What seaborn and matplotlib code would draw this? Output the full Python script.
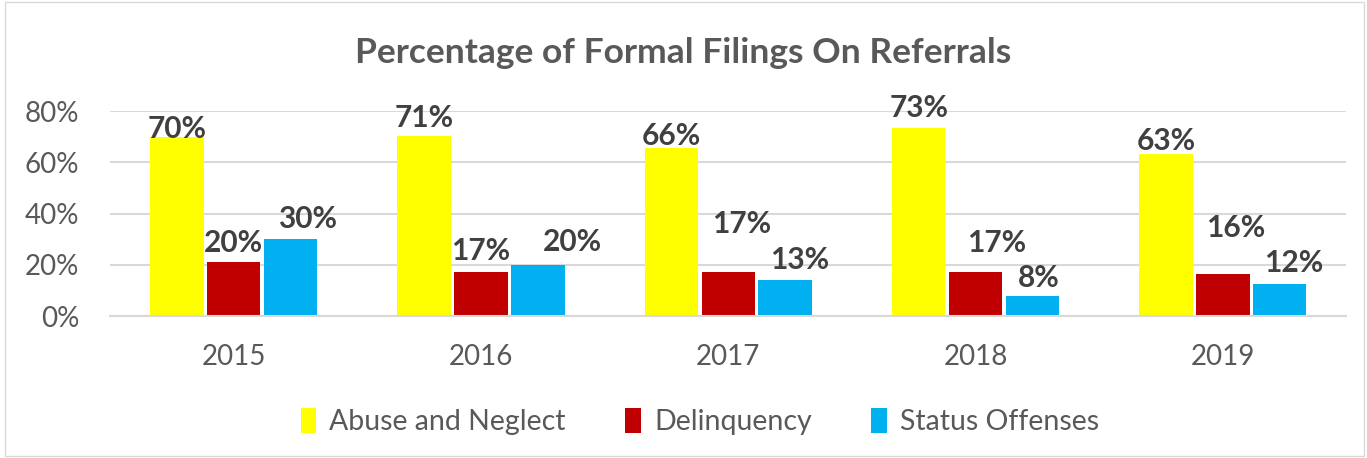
import matplotlib.pyplot as plt
import seaborn as sns
import pandas as pd
from matplotlib.patches import Rectangle
from matplotlib.ticker import PercentFormatter

years = ["2015", "2016", "2017", "2018", "2019"]
series = ["Abuse and Neglect", "Delinquency", "Status Offenses"]
abuse_neglect = [70.0, 70.3, 65.6, 73.3, 63.3]
delinquency = [20.9, 17.0, 17.2, 17.1, 16.5]
status_offenses = [30.0, 20.1, 14.0, 7.9, 12.5]
# labels as printed on the chart (rounded source values)
abuse_labels = [70, 71, 66, 73, 63]
delinquency_labels = [20, 17, 17, 17, 16]
status_labels = [30, 20, 13, 8, 12]

colors = ["#FFFF00", "#C00000", "#00B0F0"]
text_grey = "#595959"

# label offsets in pixels (dx, dy above bar top), mimicking excel placement
label_offsets = [
    [(0, 8), (0, 18), (0, 12), (0, 20), (0, 13)],
    [(0, 19), (0, 21), (13, 48), (21, 29), (13, 46)],
    [(17, 20), (35, 23), (14, 20), (6, 18), (14, 21)],
]

df = pd.DataFrame({
    "Year": years * 3,
    "Type": [s for s in series for _ in years],
    "Value": abuse_neglect + delinquency + status_offenses,
})

sns.set_theme(style="white")
plt.rcParams["font.family"] = ["Lato", "DejaVu Sans"]

fig = plt.figure(figsize=(13.67, 4.58), dpi=100)
ax = fig.add_axes([0.0805, 0.31, 0.9045, 0.4476])

sns.barplot(
    data=df, x="Year", y="Value", hue="Type", order=years, hue_order=series,
    palette=colors, width=0.69, gap=0.06, saturation=1, ax=ax,
    edgecolor="none", legend=True,
)

ax.set_ylim(0, 80)
ax.set_yticks([0, 20, 40, 60, 80])
ax.yaxis.set_major_formatter(PercentFormatter(decimals=0))
ax.grid(axis="y", color="#D9D9D9", linewidth=1.5)
ax.set_axisbelow(True)
for s in ["top", "right", "left"]:
    ax.spines[s].set_visible(False)
ax.spines["bottom"].set_color("#D9D9D9")
ax.spines["bottom"].set_linewidth(1.5)
ax.set_xlabel("")
ax.set_ylabel("")
ax.tick_params(axis="both", length=0, labelsize=20, labelcolor=text_grey)
ax.tick_params(axis="x", pad=20)
ax.tick_params(axis="y", pad=22)

all_labels = [abuse_labels, delinquency_labels, status_labels]
for i, container in enumerate(ax.containers):
    for j, bar in enumerate(container):
        dx, dy = label_offsets[i][j]
        ax.annotate(
            f"{all_labels[i][j]}%",
            xy=(bar.get_x() + bar.get_width() / 2, bar.get_height()),
            xytext=(dx * 0.72, dy * 0.72), textcoords="offset points",
            ha="center", va="center", fontsize=21.5, fontweight="bold",
            color="#404040", annotation_clip=False,
        )

fig.text(0.5, 0.885, "Percentage of Formal Filings On Referrals",
         ha="center", va="center", fontsize=25.5, fontweight="bold", color=text_grey)

ax.legend(
    loc="center", bbox_to_anchor=(0.477, -0.515), ncol=3, frameon=False,
    fontsize=20.5, labelcolor=text_grey, handlelength=0.55, handleheight=1.0,
    handletextpad=0.45, columnspacing=2.1,
)

fig.patches.append(Rectangle((0.004, 0.004), 0.994, 0.992, transform=fig.transFigure,
                             fill=False, edgecolor="#D9D9D9", linewidth=1))

plt.savefig("out.png", dpi=100)
plt.close()
